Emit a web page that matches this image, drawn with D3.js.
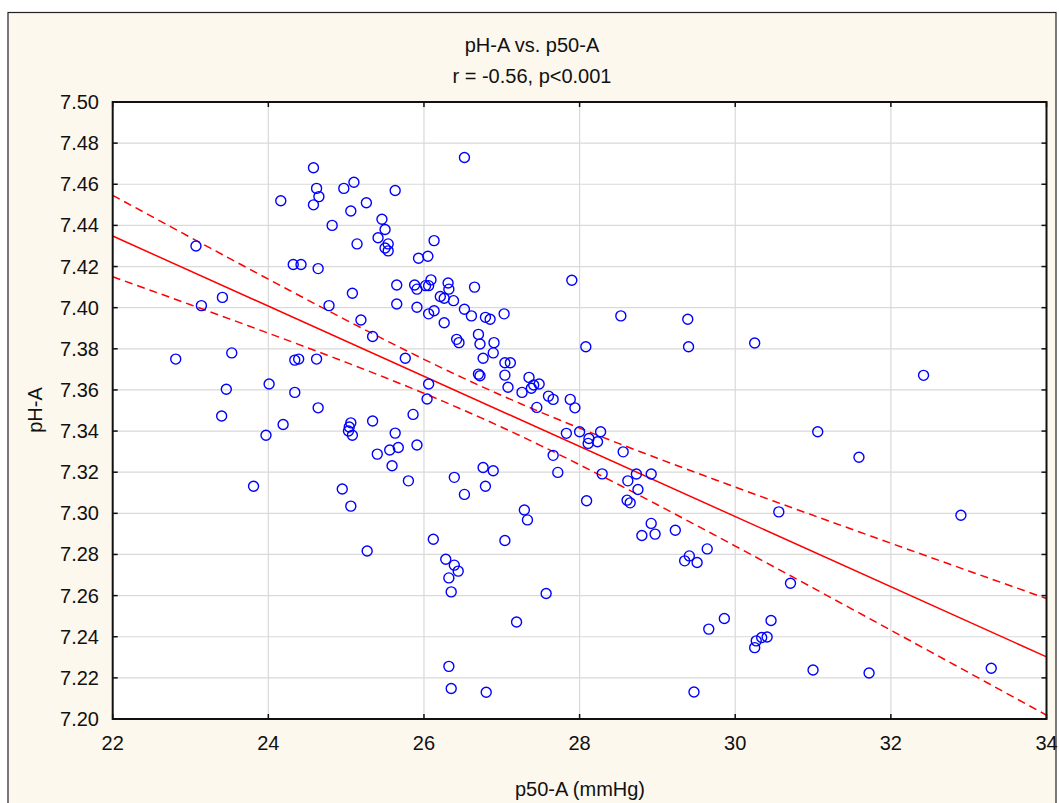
<!DOCTYPE html>
<html>
<head>
<meta charset="utf-8">
<script src="https://cdn.jsdelivr.net/npm/d3@7"></script>
<style>
  body { margin: 0; background: #fff; }
  text { font-family: "Liberation Sans", Arial, sans-serif; fill: #111; }
</style>
</head>
<body>
<div id="main_div"></div>
<script>
var p50 = [24.58,25.10,24.62,24.97,24.65,24.16,24.58,25.06,24.82,25.14,23.07,24.32,24.42,24.64,23.41,23.14,24.78,25.08,25.19,22.81,
  23.53,24.34,24.39,24.62,26.52,25.63,25.26,25.46,25.50,25.41,25.54,25.50,25.54,26.13,25.93,26.05,25.65,25.88,25.91,26.02,
  26.09,26.06,26.31,26.32,26.65,25.65,25.91,26.21,26.26,26.38,26.52,26.06,26.13,26.61,26.79,26.85,27.03,26.26,26.70,26.42,
  26.45,26.72,26.90,25.34,26.76,26.89,27.04,27.11,25.76,24.01,24.34,24.64,24.19,23.97,25.06,25.04,25.03,25.08,25.34,25.63,
  25.56,25.67,25.40,25.91,25.86,25.59,25.80,24.95,25.06,26.06,26.04,26.70,26.72,27.04,27.08,26.76,26.89,26.39,26.79,26.52,
  26.12,25.27,27.04,27.29,27.33,23.46,23.40,23.81,26.28,26.39,26.44,26.32,26.35,27.19,26.32,26.35,26.80,27.90,28.53,29.39,
  28.08,29.40,30.25,27.26,27.35,27.38,27.41,27.48,27.60,27.66,27.45,27.88,27.94,27.83,28.00,28.12,28.11,28.23,28.27,27.66,
  27.72,28.29,28.56,28.62,28.73,28.92,28.75,28.61,28.65,28.09,28.92,28.80,28.97,29.23,29.64,30.56,29.35,29.41,29.51,30.71,
  27.57,29.66,29.86,30.25,30.27,30.34,30.41,30.46,31.00,29.47,32.42,31.06,31.59,32.90,31.72,33.29];
var pH = [7.468,7.461,7.458,7.458,7.454,7.452,7.450,7.447,7.440,7.431,7.430,7.421,7.421,7.419,7.405,7.401,7.401,7.407,7.394,7.375,
  7.378,7.3745,7.375,7.375,7.473,7.457,7.451,7.443,7.438,7.434,7.431,7.429,7.4276,7.4326,7.424,7.425,7.411,7.411,7.409,7.4107,
  7.4135,7.4107,7.412,7.409,7.410,7.4018,7.4002,7.4054,7.4046,7.4034,7.3992,7.397,7.3985,7.396,7.3953,7.3944,7.397,7.3927,7.387,7.3846,
  7.383,7.3823,7.383,7.386,7.3754,7.378,7.3732,7.3732,7.3754,7.3629,7.3588,7.3513,7.3432,7.338,7.344,7.342,7.340,7.338,7.3449,7.339,
  7.3308,7.332,7.3288,7.3332,7.3481,7.3231,7.3158,7.3118,7.3035,7.3629,7.3556,7.3677,7.3669,7.3672,7.3613,7.3223,7.3207,7.3175,7.3132,7.3092,
  7.2874,7.2817,7.2868,7.3016,7.2968,7.3603,7.3473,7.3132,7.2777,7.2748,7.2719,7.2686,7.2618,7.2472,7.2256,7.2148,7.213,7.4133,7.396,7.3944,
  7.381,7.381,7.3828,7.3588,7.3661,7.3608,7.3624,7.3629,7.357,7.3554,7.3515,7.3554,7.3513,7.3389,7.3397,7.3364,7.334,7.3348,7.3397,7.3282,
  7.3199,7.3192,7.3299,7.3158,7.3191,7.3191,7.3116,7.3064,7.3051,7.3061,7.2951,7.2892,7.2899,7.2918,7.2827,7.3007,7.2769,7.2793,7.2761,7.266,
  7.261,7.2437,7.2489,7.2347,7.238,7.2396,7.2399,7.2479,7.2238,7.2131,7.3671,7.3397,7.3273,7.2991,7.2224,7.2247];

var xTicks = [22, 24, 26, 28, 30, 32, 34];
var yTicks = [7.20, 7.22, 7.24, 7.26, 7.28, 7.30, 7.32, 7.34, 7.36, 7.38, 7.40, 7.42, 7.44, 7.46, 7.48, 7.50];
var titleLines = ["pH-A vs. p50-A", "r = -0.56, p<0.001"];
var xTitle = "p50-A (mmHg)";
var yTitle = "pH-A";

var W = 1059, H = 803;
var fs = 20;
var x_scale = d3.scaleLinear().domain([22, 34]).range([112.7, 1046.5]);
var y_scale = d3.scaleLinear().domain([7.20, 7.50]).range([719, 102]);

var svg = d3.select("#main_div").append("svg").attr("width", W).attr("height", H);

// outer panel
svg.append("rect").attr("x", 8).attr("y", 12.5).attr("width", 1048).attr("height", 800)
  .attr("fill", "#fdf8ee").attr("stroke", "#222").attr("stroke-width", 1.2);

// plot area
svg.append("rect").attr("x", x_scale(22)).attr("y", y_scale(7.5))
  .attr("width", x_scale(34) - x_scale(22)).attr("height", y_scale(7.2) - y_scale(7.5))
  .attr("fill", "#fff");

// grid
svg.append("g").selectAll("line").data(xTicks.slice(1, -1)).enter().append("line")
  .attr("x1", function(d) { return x_scale(d); }).attr("x2", function(d) { return x_scale(d); })
  .attr("y1", y_scale(7.5)).attr("y2", y_scale(7.2))
  .attr("stroke", "#d9d9d9").attr("stroke-width", 1.2);
svg.append("g").selectAll("line").data(yTicks.slice(1, -1)).enter().append("line")
  .attr("y1", function(d) { return y_scale(d); }).attr("y2", function(d) { return y_scale(d); })
  .attr("x1", x_scale(22)).attr("x2", x_scale(34))
  .attr("stroke", "#d9d9d9").attr("stroke-width", 1.2);

// regression line + 95% confidence band computed from the points
var n = p50.length;
var mx = d3.mean(p50), my = d3.mean(pH);
var sxx = d3.sum(p50, function(v) { return (v - mx) * (v - mx); });
var sxy = d3.sum(p50, function(v, i) { return (v - mx) * (pH[i] - my); });
var slope = sxy / sxx, icpt = my - slope * mx;
var sse = d3.sum(p50, function(v, i) { var e = pH[i] - (icpt + slope * v); return e * e; });
var se = Math.sqrt(sse / (n - 2));
var tval = 1.974;
var xs = d3.range(22, 34.001, 0.25);
function band(sign) {
  return xs.map(function(v) {
    var h = tval * se * Math.sqrt(1 / n + (v - mx) * (v - mx) / sxx);
    return [v, icpt + slope * v + sign * h];
  });
}
var line = d3.line().x(function(d) { return x_scale(d[0]); }).y(function(d) { return y_scale(d[1]); });

svg.append("clipPath").attr("id", "clip").append("rect")
  .attr("x", x_scale(22)).attr("y", y_scale(7.5))
  .attr("width", x_scale(34) - x_scale(22)).attr("height", y_scale(7.2) - y_scale(7.5));

var fit = svg.append("g").attr("clip-path", "url(#clip)");
fit.append("path").attr("d", line([[22, icpt + slope * 22], [34, icpt + slope * 34]]))
  .attr("fill", "none").attr("stroke", "#f00").attr("stroke-width", 1.5);
fit.append("path").attr("d", line(band(1)))
  .attr("fill", "none").attr("stroke", "#f00").attr("stroke-width", 1.5).attr("stroke-dasharray", "8,5");
fit.append("path").attr("d", line(band(-1)))
  .attr("fill", "none").attr("stroke", "#f00").attr("stroke-width", 1.5).attr("stroke-dasharray", "8,5");

// points
svg.append("g").selectAll("circle").data(p50).enter().append("circle")
  .attr("cx", function(d) { return x_scale(d); })
  .attr("cy", function(d, i) { return y_scale(pH[i]); })
  .attr("r", 5)
  .attr("fill", "none").attr("stroke", "#0000ff").attr("stroke-width", 1.4);

// frame and inward ticks
var tk = 5;
var ax = svg.append("g").attr("stroke", "#111");
ax.selectAll(".xb").data(xTicks).enter().append("line")
  .attr("x1", function(d) { return x_scale(d); }).attr("x2", function(d) { return x_scale(d); })
  .attr("y1", y_scale(7.2)).attr("y2", y_scale(7.2) - tk).attr("stroke-width", 1.5);
ax.selectAll(".xt").data(xTicks).enter().append("line")
  .attr("x1", function(d) { return x_scale(d); }).attr("x2", function(d) { return x_scale(d); })
  .attr("y1", y_scale(7.5)).attr("y2", y_scale(7.5) + tk).attr("stroke-width", 1.5);
ax.selectAll(".yl").data(yTicks).enter().append("line")
  .attr("y1", function(d) { return y_scale(d); }).attr("y2", function(d) { return y_scale(d); })
  .attr("x1", x_scale(22)).attr("x2", x_scale(22) + tk).attr("stroke-width", 1.5);
ax.selectAll(".yr").data(yTicks).enter().append("line")
  .attr("y1", function(d) { return y_scale(d); }).attr("y2", function(d) { return y_scale(d); })
  .attr("x1", x_scale(34)).attr("x2", x_scale(34) - tk).attr("stroke-width", 1.5);
svg.append("rect").attr("x", x_scale(22)).attr("y", y_scale(7.5))
  .attr("width", x_scale(34) - x_scale(22)).attr("height", y_scale(7.2) - y_scale(7.5))
  .attr("fill", "none").attr("stroke", "#111").attr("stroke-width", 2);

// tick labels
svg.append("g").selectAll("text").data(xTicks).enter().append("text")
  .attr("x", function(d) { return x_scale(d); }).attr("y", 750)
  .attr("text-anchor", "middle").attr("font-size", fs)
  .text(function(d) { return d; });
svg.append("g").selectAll("text").data(yTicks).enter().append("text")
  .attr("x", 99).attr("y", function(d) { return y_scale(d) + 7; })
  .attr("text-anchor", "end").attr("font-size", fs)
  .text(function(d) { return d.toFixed(2); });

// titles
svg.append("g").selectAll("text").data(titleLines).enter().append("text")
  .attr("x", 532).attr("y", function(d, i) { return 52 + i * 31; })
  .attr("text-anchor", "middle").attr("font-size", fs)
  .text(function(d) { return d; });
svg.append("text").attr("x", 580).attr("y", 796).attr("text-anchor", "middle")
  .attr("font-size", fs).text(xTitle);
svg.append("text").attr("transform", "translate(42,410) rotate(-90)").attr("text-anchor", "middle")
  .attr("font-size", fs).text(yTitle);
</script>
</body>
</html>
